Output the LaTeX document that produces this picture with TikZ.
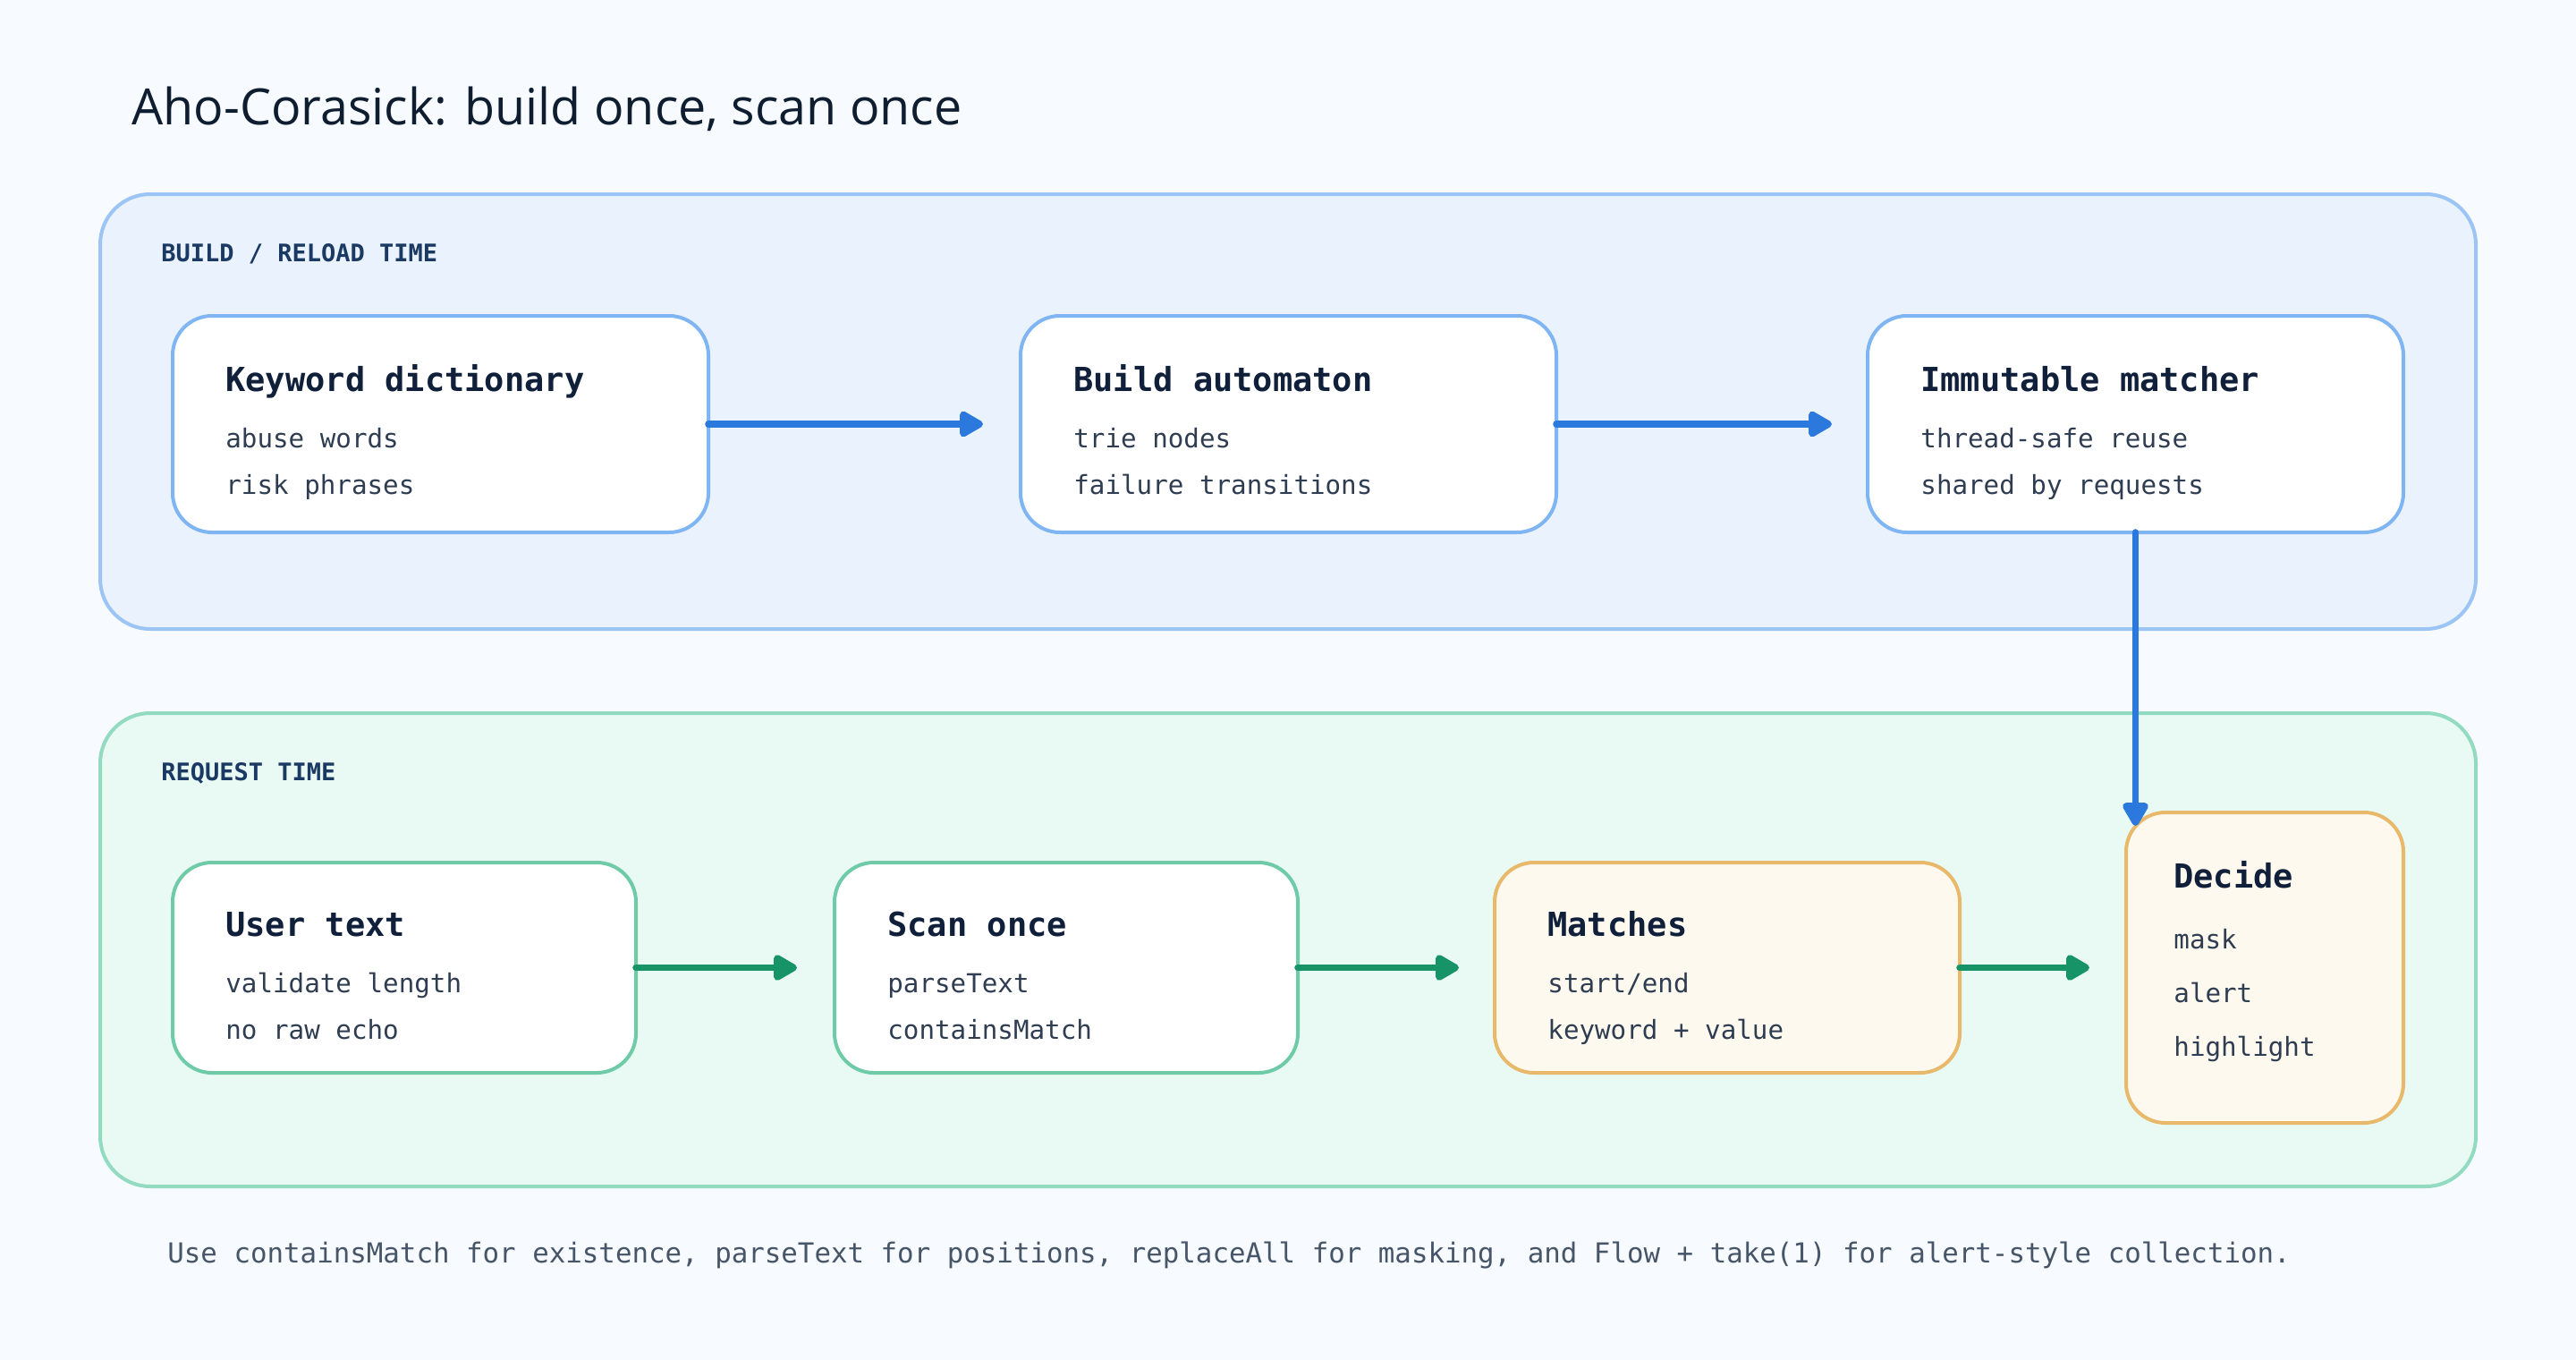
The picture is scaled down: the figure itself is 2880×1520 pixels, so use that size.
\documentclass[tikz,border=0pt]{standalone}
\usepackage{fontspec}
\usepackage{graphicx}
\setmainfont{Open Sans}
\setmonofont{DejaVu Sans Mono}
\usetikzlibrary{arrows.meta,calc}
\definecolor{pagebg}{HTML}{F7FAFE}
\definecolor{bpanelfill}{HTML}{EAF2FE}
\definecolor{bpanelline}{HTML}{9CC5F5}
\definecolor{gpanelfill}{HTML}{E8FAF3}
\definecolor{gpanelline}{HTML}{93DBC0}
\definecolor{bboxline}{HTML}{7EB5F2}
\definecolor{gboxline}{HTML}{6FCBA7}
\definecolor{oboxline}{HTML}{E8B96A}
\definecolor{oboxfill}{HTML}{FEF9EE}
\definecolor{bluearrow}{HTML}{2B79DC}
\definecolor{greenarrow}{HTML}{169467}
\definecolor{titlecol}{HTML}{0F1D30}
\definecolor{boxtitlecol}{HTML}{10203A}
\definecolor{bodycol}{HTML}{2F3D52}
\definecolor{footcol}{HTML}{475569}
\definecolor{labelcol}{HTML}{1B3A63}
\tikzset{
  panel/.style={line width=2pt, rounded corners=28pt, inner sep=0pt, outer sep=0pt, anchor=north west},
  buildpanel/.style={panel, draw=bpanelline, fill=bpanelfill, minimum width=1328pt, minimum height=243pt},
  reqpanel/.style={panel, draw=gpanelline, fill=gpanelfill, minimum width=1328pt, minimum height=264.5pt},
  panellabel/.style={anchor=base west, inner sep=0pt, text=labelcol, font=\ttfamily\bfseries\fontsize{13.5}{16}\selectfont},
  box/.style={line width=2pt, rounded corners=22pt, inner sep=0pt, outer sep=0pt, anchor=north west},
  bluebox/.style={box, draw=bboxline, fill=white, minimum width=299.5pt, minimum height=121pt},
  greenbox/.style={box, draw=gboxline, fill=white, minimum width=259pt, minimum height=117.5pt},
  orangebox/.style={box, draw=oboxline, fill=oboxfill},
  ttl/.style={anchor=base west, inner sep=0pt, text=boxtitlecol, font=\ttfamily\bfseries\fontsize{18.5}{20}\selectfont},
  sub/.style={anchor=base west, inner sep=0pt, text=bodycol, font=\ttfamily\fontsize{14.6}{16}\selectfont},
  flowb/.style={draw=bluearrow, line width=3.8pt, line cap=round, -{Triangle[length=15pt,width=16pt,round]}},
  flowg/.style={draw=greenarrow, line width=3.8pt, line cap=round, -{Triangle[length=15pt,width=16pt,round]}},
}
\begin{document}
\begin{tikzpicture}[x=0.5pt,y=-0.5pt]
\useasboundingbox (0,0) rectangle (2880,1520);
\fill[pagebg] (0,0) rectangle (2880,1520);

% title
\node[anchor=base west, inner sep=0pt, text=titlecol, font=\fontsize{28}{32}\selectfont] (title) at (147,140)
  {\resizebox{464pt}{\height}{Aho-Corasick: build once, scan once}};

% panels
\node[buildpanel] (bp) at (112,217) {};
\node[reqpanel] (rp) at (112,797) {};
\node[panellabel] (bplabel) at (180,292) {BUILD / RELOAD TIME};
\node[panellabel] (rplabel) at (180,872) {REQUEST TIME};

% build row
\node[bluebox] (kd) at (193,353) {};
\node[ttl] (kdt) at ([shift={(29.5pt,-42pt)}]kd.north west) {Keyword dictionary};
\node[sub] (kd1) at ([shift={(29.5pt,-73.5pt)}]kd.north west) {abuse words};
\node[sub] (kd2) at ([shift={(29.5pt,-99.5pt)}]kd.north west) {risk phrases};

\node[bluebox] (ba) at (1141,353) {};
\node[ttl] (bat) at ([shift={(29.5pt,-42pt)}]ba.north west) {Build automaton};
\node[sub] (ba1) at ([shift={(29.5pt,-73.5pt)}]ba.north west) {trie nodes};
\node[sub] (ba2) at ([shift={(29.5pt,-99.5pt)}]ba.north west) {failure transitions};

\node[bluebox] (imm) at (2088,353) {};
\node[ttl] (immt) at ([shift={(29.5pt,-42pt)}]imm.north west) {Immutable matcher};
\node[sub] (imm1) at ([shift={(29.5pt,-73.5pt)}]imm.north west) {thread-safe reuse};
\node[sub] (imm2) at ([shift={(29.5pt,-99.5pt)}]imm.north west) {shared by requests};

% request row
\node[greenbox] (ut) at (193,964) {};
\node[ttl] (utt) at ([shift={(29.5pt,-41pt)}]ut.north west) {User text};
\node[sub] (ut1) at ([shift={(29.5pt,-72.5pt)}]ut.north west) {validate length};
\node[sub] (ut2) at ([shift={(29.5pt,-98.5pt)}]ut.north west) {no raw echo};

\node[greenbox] (sc) at (933,964) {};
\node[ttl] (sct) at ([shift={(29.5pt,-41pt)}]sc.north west) {Scan once};
\node[sub] (sc1) at ([shift={(29.5pt,-72.5pt)}]sc.north west) {parseText};
\node[sub] (sc2) at ([shift={(29.5pt,-98.5pt)}]sc.north west) {containsMatch};

\node[orangebox, minimum width=260pt, minimum height=117.5pt] (mt) at (1671,964) {};
\node[ttl] (mtt) at ([shift={(29.5pt,-41pt)}]mt.north west) {Matches};
\node[sub] (mt1) at ([shift={(29.5pt,-72.5pt)}]mt.north west) {start/end};
\node[sub] (mt2) at ([shift={(29.5pt,-98.5pt)}]mt.north west) {keyword + value};

\node[orangebox, minimum width=155pt, minimum height=173.5pt] (dec) at (2377,908) {};
\node[ttl] (dect) at ([shift={(26.5pt,-42pt)}]dec.north west) {Decide};
\node[sub] (dec1) at ([shift={(26.5pt,-76pt)}]dec.north west) {mask};
\node[sub] (dec2) at ([shift={(26.5pt,-106pt)}]dec.north west) {alert};
\node[sub] (dec3) at ([shift={(26.5pt,-136pt)}]dec.north west) {highlight};

% connectors
\draw[flowb, shorten >=21pt] (kd.east) -- (kd.east -| ba.west);
\draw[flowb, shorten >=20pt] (ba.east) -- (ba.east -| imm.west);
\coordinate (dectop) at ($(imm.south |- dec.north)+(0,15)$);
\draw[flowb] (imm.south) -- (dectop);
\draw[flowg, shorten >=21pt] (ut.east) -- (ut.east -| sc.west);
\draw[flowg, shorten >=20pt] (sc.east) -- (sc.east -| mt.west);
\draw[flowg, shorten >=20.5pt] (mt.east) -- (mt.east -| dec.west);

% footer
\node[anchor=base west, inner sep=0pt, text=footcol, font=\ttfamily\fontsize{15.4}{18}\selectfont] (foot) at (187,1411)
  {Use containsMatch for existence, parseText for positions, replaceAll for masking, and Flow + take(1) for alert-style collection.};
\end{tikzpicture}
\end{document}
